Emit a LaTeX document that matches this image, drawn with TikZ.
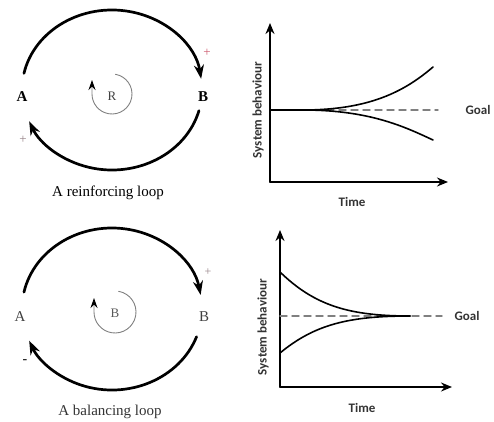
\documentclass[tikz,border=0pt]{standalone}
\usepackage{fontspec}
\setmainfont{Liberation Serif}
\newfontfamily\graphfont{Carlito}
\usetikzlibrary{arrows.meta}
\definecolor{plusred}{RGB}{205,90,110}
\definecolor{plusgray}{RGB}{150,130,135}
\begin{document}
\begin{tikzpicture}[x=1pt,y=1pt,line join=round,line cap=round,>={Stealth[length=14pt,width=10pt]}]
	\tikzset{loopline/.style={line width=2.7pt,->},
		innerloop/.style={gray,line width=0.9pt,-{Stealth[black,length=10pt,width=7pt]}},
		axisline/.style={line width=1.7pt,-{Stealth[length=11pt,width=9pt]}},
		behaviour/.style={line width=1.6pt},
		goalline/.style={gray,line width=1.4pt,dash pattern=on 7pt off 5pt},
		graphtext/.style={font=\graphfont\bfseries\fontsize{13}{15}\selectfont,text=black!80},
		looptext/.style={font=\fontsize{15}{18}\selectfont}}
	\useasboundingbox (0,0) rectangle (494,421);
	%%% reinforcing loop
	\begin{scope}[shift={(112,331)}]
		\def\rx{90}
		\def\ry{80}
		\coordinate (rTop) at (168:{\rx} and {\ry});
		\coordinate (rBot) at (-15:{\rx} and {\ry});
		\draw[loopline] (rTop) arc[start angle=168,end angle=8,x radius=\rx,y radius=\ry];
		\draw[loopline] (rBot) arc[start angle=-15,end angle=-157,x radius=\rx,y radius=\ry];
		\draw[innerloop] (0,-4)+(80:20) arc[start angle=80,end angle=-180,radius=20]--++(0,14);
		\node[looptext,font=\bfseries\fontsize{15}{18}\selectfont] (rA) at (-90,-7) {A};
		\node[looptext,font=\bfseries\fontsize{15}{18}\selectfont] (rB) at (91,-7) {B};
		\node[looptext,font=\fontsize{13}{15}\selectfont,text=black!75] (rR) at (0,-6) {R};
		\node[plusred,font=\fontsize{13}{15}\selectfont] (rPlus1) at (95,37) {+};
		\node[plusgray,font=\fontsize{13}{15}\selectfont] (rPlus2) at (-89,-50) {+};
		\node[looptext] (rCap) at (-4,-103) {A reinforcing loop};
	\end{scope}
	%%% balancing loop
	\begin{scope}[shift={(112,112)}]
		\def\rx{90}
		\def\ry{81}
		\coordinate (bTop) at (168:{\rx} and {\ry});
		\coordinate (bBot) at (-20:{\rx} and {\ry});
		\draw[loopline] (bTop) arc[start angle=168,end angle=10,x radius=\rx,y radius=\ry];
		\draw[loopline] (bBot) arc[start angle=-20,end angle=-157,x radius=\rx,y radius=\ry];
		\draw[innerloop] (3,-3)+(80:21) arc[start angle=80,end angle=-180,radius=21]--++(0,14);
		\node[looptext,text=black!75] (bA) at (-92,-8) {A};
		\node[looptext,text=black!75] (bB) at (92,-8) {B};
		\node[looptext,font=\fontsize{13}{15}\selectfont,text=black!65] (bB2) at (3,-4) {B};
		\node[plusgray,font=\fontsize{12}{14}\selectfont] (bPlus) at (96,37) {+};
		\node[font=\fontsize{14}{16}\selectfont] (bMinus) at (-87,-53) {-};
		\node[looptext,text=black!80] (bCap) at (-2,-103) {A balancing loop};
	\end{scope}
	%%% graph: growth
	\coordinate (gO) at (270,239);
	\coordinate (gY) at (270,398);
	\coordinate (gX) at (448,239);
	\coordinate (gS) at (270,311);
	\coordinate (gM) at (303,311);
	\coordinate (gUp) at (433,354);
	\coordinate (gDn) at (433,281);
	\coordinate (gDash) at (438,311);
	\draw[axisline] (gO)--(gY);
	\draw[axisline] (gO)--(gX);
	\draw[goalline] (gM)--(gDash);
	\draw[behaviour] (gS)--(gM) .. controls (370,311) and (405,330) .. (gUp);
	\draw[behaviour] (gM) .. controls (370,311) and (405,294) .. (gDn);
	\node[graphtext,rotate=90] (gLab) at (258,311) {System behaviour};
	\node[graphtext] (gTime) at (352,219) {Time};
	\node[graphtext,anchor=east] (gGoal) at (494,311) {Goal};
	%%% graph: goal seeking
	\coordinate (hO) at (280,34);
	\coordinate (hY) at (280,191);
	\coordinate (hX) at (452,34);
	\coordinate (hUpS) at (280,149);
	\coordinate (hDnS) at (280,68);
	\coordinate (hEnd) at (410,105);
	\coordinate (hS) at (280,105);
	\coordinate (hDash) at (442,105);
	\draw[axisline] (hO)--(hY);
	\draw[axisline] (hO)--(hX);
	\draw[goalline] (hS)--(hDash);
	\draw[behaviour] (hUpS) .. controls (315,115) and (350,105) .. (hEnd);
	\draw[behaviour] (hDnS) .. controls (315,97) and (350,105) .. (hEnd);
	\node[graphtext,rotate=90] (hLab) at (263,94) {System behaviour};
	\node[graphtext] (hTime) at (362,13) {Time};
	\node[graphtext] (hGoal) at (467,105) {Goal};
\end{tikzpicture}
\end{document}
